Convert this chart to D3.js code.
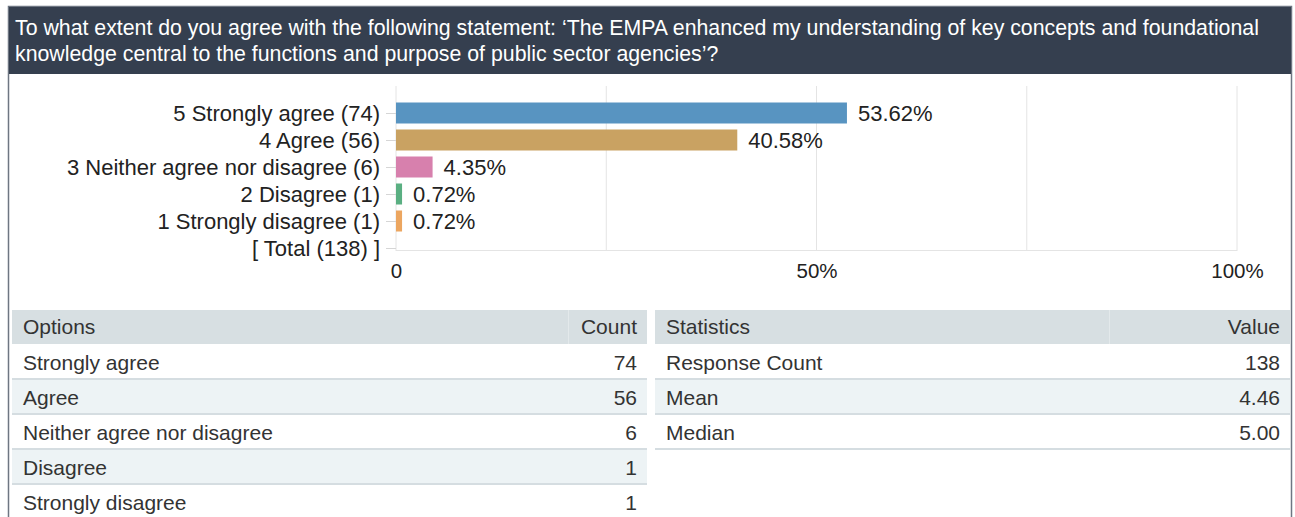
<!DOCTYPE html>
<html>
<head>
<meta charset="utf-8">
<script src="https://cdn.jsdelivr.net/npm/d3@7"></script>
<style>
  body { margin: 0; background: #fff; }
  svg { display: block; font-family: "Liberation Sans", Arial, sans-serif; }
</style>
</head>
<body>
<div id="chart"></div>
<script>
// data
var titleLines = [
    "To what extent do you agree with the following statement: \u2018The EMPA enhanced my understanding of key concepts and foundational",
    "knowledge central to the functions and purpose of public sector agencies\u2019?"
]
var options = ["Strongly agree", "Agree", "Neither agree nor disagree", "Disagree", "Strongly disagree"]
var scores = [5, 4, 3, 2, 1]
var counts = [74, 56, 6, 1, 1]
var percents = [53.62, 40.58, 4.35, 0.72, 0.72]
var total = 138
var xTicks = [0, 50, 100]
var statNames = ["Response Count", "Mean", "Median"]
var statValues = ["138", "4.46", "5.00"]

var colors = ["#5894c1", "#c9a262", "#d780ad", "#5aaf82", "#eca660"]

var w = 1295,
    h = 517;

var svg = d3.select("#chart").append("svg")
    .attr("width", w)
    .attr("height", h)

// frame + title band
svg.append("rect")
    .attr("x", 8.5).attr("y", 6.5)
    .attr("width", 1283).attr("height", 520)
    .attr("fill", "#fff")
    .attr("stroke", "#6e7682")
    .attr("stroke-width", 1.5)

svg.append("rect")
    .attr("x", 9).attr("y", 7)
    .attr("width", 1282).attr("height", 67)
    .attr("fill", "#353f4f")

svg.selectAll(".title")
    .data(titleLines)
    .enter().append("text")
    .attr("class", "title")
    .attr("x", 15)
    .attr("y", function(d, i) { return 35 + i * 26; })
    .attr("fill", "#fff")
    .style("font-size", "21.3px")
    .text(function(d) { return d; })

// bar chart
var rowLabels = options.map(function(d, i) {
    return scores[i] + " " + d + " (" + counts[i] + ")";
})
rowLabels.push("[ Total (" + total + ") ]")

var x = d3.scaleLinear()
    .domain([0, 100])
    .range([396, 1237]);

var y = d3.scalePoint()
    .domain(rowLabels)
    .range([113, 248]);

// gridlines
svg.selectAll(".grid")
    .data([0, 25, 50, 75, 100])
    .enter().append("line")
    .attr("x1", function(d) { return x(d); })
    .attr("x2", function(d) { return x(d); })
    .attr("y1", 86)
    .attr("y2", 251)
    .attr("stroke", "#e4e4e4")
    .attr("stroke-width", 1)

svg.append("line")
    .attr("x1", x(0)).attr("x2", x(100))
    .attr("y1", 250.5).attr("y2", 250.5)
    .attr("stroke", "#e4e4e4")

var yAxis = svg.append("g")
    .attr("transform", "translate(" + x(0) + ",0)")
    .call(d3.axisLeft(y).tickSize(10).tickPadding(6))

yAxis.select(".domain").remove()
yAxis.selectAll(".tick line").attr("stroke", "#d6d6d6")
yAxis.selectAll(".tick text")
    .attr("fill", "#222")
    .style("font-size", "22px")
    .style("font-family", "\"Liberation Sans\", Arial, sans-serif")

var xAxis = svg.append("g")
    .attr("transform", "translate(0,251)")
    .call(d3.axisBottom(x).tickValues(xTicks).tickSize(0).tickPadding(12)
        .tickFormat(function(d) { return d === 0 ? "0" : d + "%"; }))

xAxis.select(".domain").remove()
xAxis.selectAll(".tick text")
    .attr("fill", "#222")
    .style("font-size", "20.5px")
    .style("font-family", "\"Liberation Sans\", Arial, sans-serif")

var barH = 21;

svg.selectAll(".bar")
    .data(percents)
    .enter().append("rect")
    .attr("class", "bar")
    .attr("x", x(0))
    .attr("y", function(d, i) { return y(rowLabels[i]) - barH / 2; })
    .attr("width", function(d) { return x(d) - x(0); })
    .attr("height", barH)
    .attr("fill", function(d, i) { return colors[i]; })

svg.selectAll(".val")
    .data(percents)
    .enter().append("text")
    .attr("class", "val")
    .attr("x", function(d) { return x(d) + 11; })
    .attr("y", function(d, i) { return y(rowLabels[i]); })
    .attr("dy", "0.35em")
    .attr("fill", "#222")
    .style("font-size", "22px")
    .text(function(d) { return d.toFixed(2) + "%"; })

// tables
function drawTable(x0, x1, splitX, head, names, values, rowCount) {
    var g = svg.append("g")
    var top = 310, headH = 34, rowH = 35;

    g.append("rect")
        .attr("x", x0).attr("y", top)
        .attr("width", x1 - x0).attr("height", headH)
        .attr("fill", "#d7dfe2")
    g.append("line")
        .attr("x1", splitX + 0.5).attr("x2", splitX + 0.5)
        .attr("y1", top).attr("y2", top + headH)
        .attr("stroke", "#e3e9eb")

    g.append("text")
        .attr("x", x0 + 11).attr("y", top + headH / 2)
        .attr("dy", "0.35em")
        .attr("fill", "#333")
        .style("font-size", "21px")
        .text(head[0])
    g.append("text")
        .attr("x", x1 - 10).attr("y", top + headH / 2)
        .attr("dy", "0.35em")
        .attr("text-anchor", "end")
        .attr("fill", "#333")
        .style("font-size", "21px")
        .text(head[1])

    var rows = g.selectAll(".row")
        .data(d3.range(rowCount))
        .enter().append("g")
        .attr("transform", function(d) { return "translate(0," + (top + headH + 1 + d * rowH) + ")"; })

    rows.append("rect")
        .attr("x", x0).attr("y", 0)
        .attr("width", x1 - x0).attr("height", rowH - 2)
        .attr("fill", function(d) { return d % 2 ? "#edf3f5" : "#fff"; })
    rows.append("rect")
        .attr("x", x0).attr("y", rowH - 2)
        .attr("width", x1 - x0).attr("height", 2)
        .attr("fill", "#d5dde1")

    rows.append("text")
        .attr("x", x0 + 11).attr("y", (rowH - 2) / 2 + 1)
        .attr("dy", "0.35em")
        .attr("fill", "#333")
        .style("font-size", "21px")
        .text(function(d) { return names[d]; })
    rows.append("text")
        .attr("x", x1 - 10).attr("y", (rowH - 2) / 2 + 1)
        .attr("dy", "0.35em")
        .attr("text-anchor", "end")
        .attr("fill", "#333")
        .style("font-size", "21px")
        .text(function(d) { return values[d]; })
}

drawTable(12, 647, 568, ["Options", "Count"], options, counts, options.length)
drawTable(655, 1290, 1109, ["Statistics", "Value"], statNames, statValues, statNames.length)
</script>
</body>
</html>
